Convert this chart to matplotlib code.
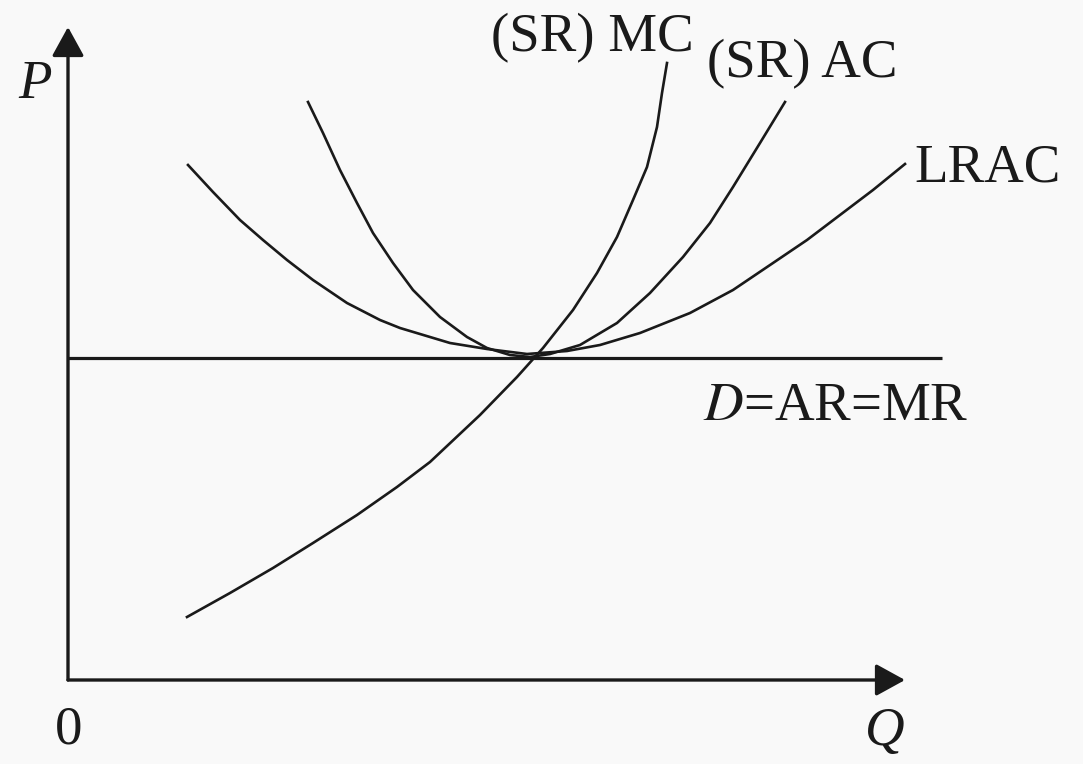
import matplotlib.pyplot as plt

# Courbes (Q, P)
mc_q = [119, 162, 205, 245, 289, 329, 362, 412, 449, 475, 505, 529, 549, 565, 579, 589, 594, 599]
mc_p = [63, 87, 112, 137, 165, 193, 218, 265, 303, 332, 370, 407, 443, 480, 513, 553, 587, 617]

ac_q = [240, 255, 272, 289, 305, 325, 345, 372, 399, 419, 442, 462, 482, 512, 549, 582, 615, 642, 665, 692, 717]
ac_p = [578, 547, 510, 477, 447, 417, 390, 363, 343, 332, 325, 323, 326, 335, 357, 387, 423, 457, 493, 537, 578]

lrac_q = [120, 145, 172, 195, 219, 245, 279, 312, 332, 382, 419, 459, 499, 532, 572, 622,
          665, 705, 739, 772, 805, 837]
lrac_p = [515, 488, 460, 440, 420, 400, 377, 360, 352, 337, 331, 326, 329, 335, 347, 367,
          390, 417, 440, 465, 490, 516]

# Droite de demande D=AR=MR
d_q = [0, 874]
d_p = [322, 322]

ink = '#1a1a1a'
bg = '#f9f9f9'
serif = ['Liberation Serif', 'DejaVu Serif']

fig = plt.figure(figsize=(10.83, 7.64), dpi=100, facecolor=bg)
ax = fig.add_axes([0, 0, 1, 1])
ax.set_facecolor(bg)
ax.set_xlim(-68, 1015)
ax.set_ylim(-84, 680)
ax.axis('off')

# Axes avec flèches
arrow = dict(arrowstyle='-|>,head_length=0.4,head_width=0.22', mutation_scale=45,
             lw=2.4, color=ink, shrinkA=0, shrinkB=0)
ax.annotate('', xy=(0, 653), xytext=(0, 0), arrowprops=arrow)
ax.annotate('', xy=(837, 0), xytext=(0, 0), arrowprops=arrow)

ax.plot(d_q, d_p, color=ink, lw=2.3, solid_capstyle='butt')
for q, p in [(mc_q, mc_p), (ac_q, ac_p), (lrac_q, lrac_p)]:
    ax.plot(q, p, color=ink, lw=1.9, solid_joinstyle='round')

fs = 39.5
ax.text(423, 629, '(SR) MC', fontsize=fs, family=serif, color=ink, va='baseline', ha='left')
ax.text(639, 603, '(SR) AC', fontsize=fs, family=serif, color=ink, va='baseline', ha='left')
ax.text(846, 498, 'LRAC', fontsize=fs, family=serif, color=ink, va='baseline', ha='left')
ax.text(635, 260, '$\\mathit{D}$=AR=MR', fontsize=fs, family=serif, color=ink,
        va='baseline', ha='left', math_fontfamily='stix')
ax.text(-50, 582, 'P', fontsize=fs, family=serif, style='italic', color=ink, va='baseline', ha='left')
ax.text(-13, -63, '0', fontsize=fs, family=serif, color=ink, va='baseline', ha='left')
ax.text(797, -65, 'Q', fontsize=fs, family=serif, style='italic', color=ink, va='baseline', ha='left')

plt.savefig('out.png', dpi=100, facecolor=bg)
